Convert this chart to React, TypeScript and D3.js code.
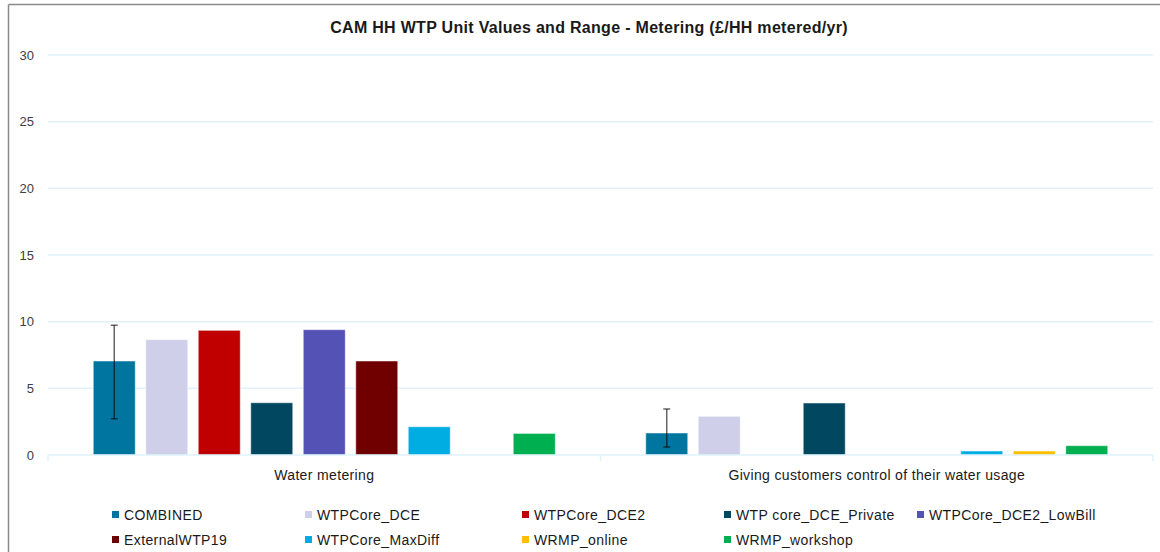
import React from "react";
import * as d3 from "d3";

const categories = ["Water metering", "Giving customers control of their water usage"];
const seriesNames = [
  "COMBINED",
  "WTPCore_DCE",
  "WTPCore_DCE2",
  "WTP core_DCE_Private",
  "WTPCore_DCE2_LowBill",
  "ExternalWTP19",
  "WTPCore_MaxDiff",
  "WRMP_online",
  "WRMP_workshop",
];
const seriesColors = [
  "#0075a0",
  "#cfcfea",
  "#c00000",
  "#00475f",
  "#5452b4",
  "#700000",
  "#00ade2",
  "#ffbf00",
  "#00b050",
];
// values per series: [Water metering, Giving customers control]
const COMBINED = [7.05, 1.65];
const WTPCore_DCE = [8.65, 2.9];
const WTPCore_DCE2 = [9.35, null];
const WTP_core_DCE_Private = [3.92, 3.9];
const WTPCore_DCE2_LowBill = [9.4, null];
const ExternalWTP19 = [7.05, null];
const WTPCore_MaxDiff = [2.12, 0.3];
const WRMP_online = [null, 0.3];
const WRMP_workshop = [1.62, 0.7];
const seriesValues: (number | null)[][] = [
  COMBINED,
  WTPCore_DCE,
  WTPCore_DCE2,
  WTP_core_DCE_Private,
  WTPCore_DCE2_LowBill,
  ExternalWTP19,
  WTPCore_MaxDiff,
  WRMP_online,
  WRMP_workshop,
];
// error range for COMBINED series [low, high]
const combinedLow = [2.72, 0.6];
const combinedHigh = [9.73, 3.45];
const yTicks = [0, 5, 10, 15, 20, 25, 30];
const title = "CAM HH WTP Unit Values and Range - Metering (£/HH metered/yr)";

const FONT = "'Liberation Sans', Arial, sans-serif";

export default function App() {
  const W = 1160;
  const H = 552;
  const left = 48;
  const right = 1153;
  const top = 55;
  const bottom = 455;

  const y = d3.scaleLinear().domain([0, 30]).range([bottom, top]);
  const x0 = d3.scaleBand<string>().domain(categories).range([left, right]).paddingInner(0).paddingOuter(0);
  const band = x0.bandwidth();
  const groupPad = 40;
  const x1 = d3
    .scaleBand<string>()
    .domain(seriesNames)
    .range([groupPad, band - groupPad])
    .paddingInner(0.2)
    .paddingOuter(0.1);

  const legendCols = [112, 305, 522, 724, 917];
  const legendRows = [516, 541];

  return (
    <div style={{ position: "fixed", left: 0, top: 0 }}>
      <svg width={W} height={H} style={{ display: "block", background: "#fff" }}>
        <rect x={0} y={0} width={W} height={H} fill="#fff" />
        {/* outer border */}
        <line x1={8.5} y1={4.5} x2={W} y2={4.5} stroke="#8a8a8a" strokeWidth={1.5} />
        <line x1={8.5} y1={4.5} x2={8.5} y2={H} stroke="#8a8a8a" strokeWidth={1.5} />

        <text
          x={589}
          y={33}
          textAnchor="middle"
          fontFamily={FONT}
          fontWeight="bold"
          fontSize={16}
          letterSpacing={0.3}
          fill="#1a1a1a"
        >
          {title}
        </text>

        {/* gridlines */}
        {yTicks.map((t) => (
          <g key={t}>
            {t !== 0 && (
              <line x1={left} x2={right} y1={y(t)} y2={y(t)} stroke="#dff2fb" strokeWidth={1.5} />
            )}
            <text
              x={34}
              y={y(t) + 4.5}
              textAnchor="end"
              fontFamily={FONT}
              fontSize={13}
              fill="#404040"
            >
              {t}
            </text>
          </g>
        ))}

        {/* bars */}
        {categories.map((c, ci) => (
          <g key={c} transform={`translate(${x0(c)},0)`}>
            {seriesNames.map((s, si) => {
              const v = seriesValues[si][ci];
              if (v == null) return null;
              return (
                <rect
                  key={s}
                  x={x1(s)}
                  y={y(v)}
                  width={x1.bandwidth()}
                  height={y(0) - y(v)}
                  fill={seriesColors[si]}
                  stroke="#ffffff"
                  strokeOpacity={0.5}
                  strokeWidth={1}
                />
              );
            })}
            {/* error bar on COMBINED */}
            {(() => {
              const cx = (x1(seriesNames[0]) as number) + x1.bandwidth() / 2;
              const lo = y(combinedLow[ci]);
              const hi = y(combinedHigh[ci]);
              return (
                <g stroke="#000" strokeOpacity={0.6} strokeWidth={1.5}>
                  <line x1={cx} x2={cx} y1={hi} y2={lo} />
                  <line x1={cx - 3.5} x2={cx + 3.5} y1={hi} y2={hi} />
                  <line x1={cx - 3.5} x2={cx + 3.5} y1={lo} y2={lo} />
                </g>
              );
            })()}
            <text
              x={band / 2}
              y={480}
              textAnchor="middle"
              fontFamily={FONT}
              fontSize={14}
              letterSpacing={0.35}
              fill="#1a1a1a"
            >
              {c}
            </text>
          </g>
        ))}

        {/* x axis */}
        <line x1={left} x2={right} y1={bottom} y2={bottom} stroke="#dff2fb" strokeWidth={1.5} />
        {[left, (x0(categories[1]) as number), right].map((tx, i) => (
          <line key={i} x1={tx} x2={tx} y1={bottom} y2={bottom + 6} stroke="#dff2fb" strokeWidth={1.5} />
        ))}

        {/* legend */}
        {seriesNames.map((s, i) => {
          const col = i % 5;
          const row = Math.floor(i / 5);
          const lx = legendCols[col];
          const ly = legendRows[row];
          return (
            <g key={s}>
              <rect x={lx} y={ly - 5} width={7} height={7} fill={seriesColors[i]} />
              <text
                x={lx + 12}
                y={ly + 3.5}
                fontFamily={FONT}
                fontSize={14}
                letterSpacing={0.4}
                fill="#1a1a1a"
              >
                {s}
              </text>
            </g>
          );
        })}
      </svg>
    </div>
  );
}
